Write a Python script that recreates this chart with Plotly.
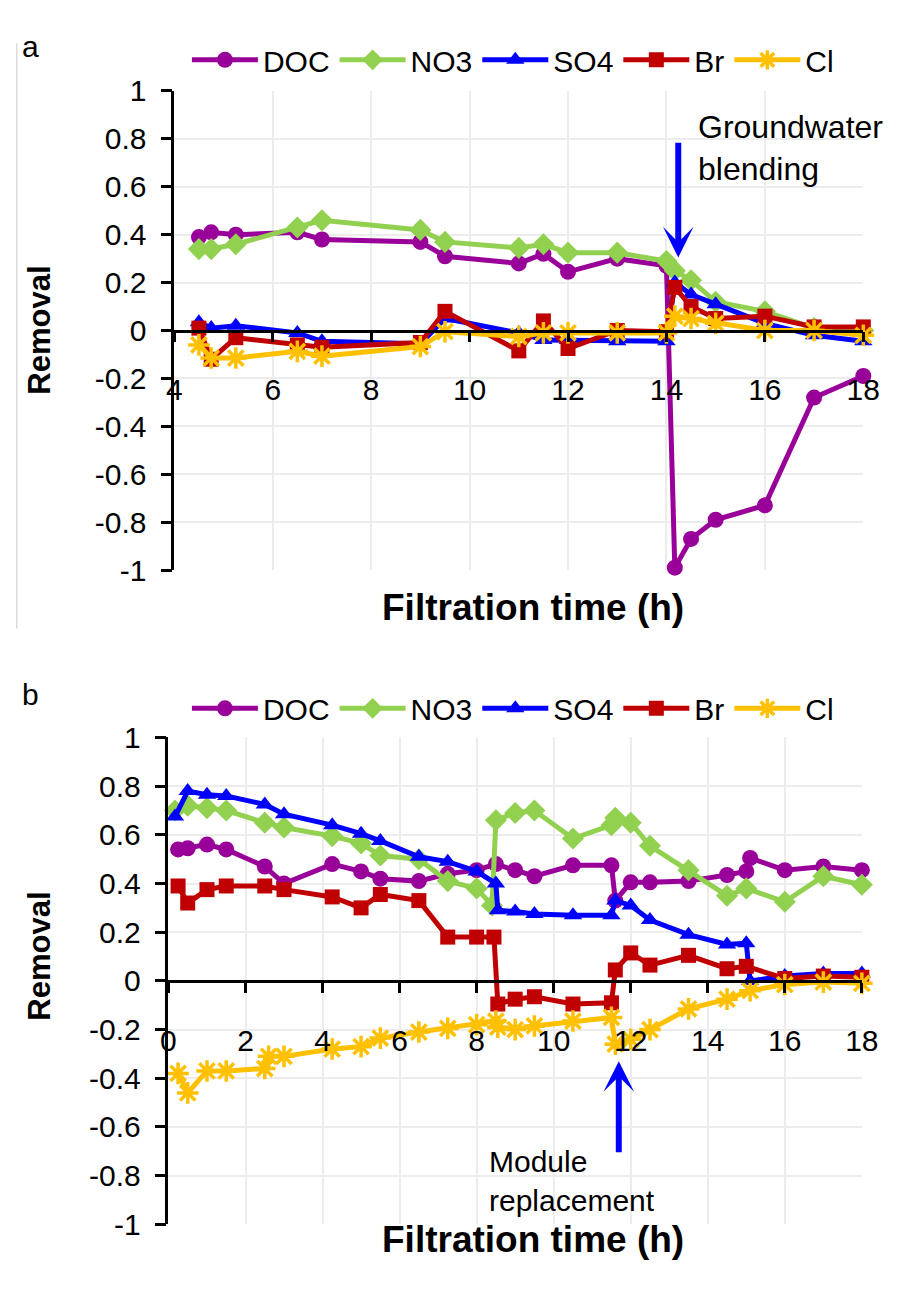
import plotly.graph_objects as go

W, H = 909, 1290

# ---------------- Panel a data ----------------
time_a = [4.5, 4.75, 5.25, 6.5, 7.0, 9.0, 9.5, 11.0, 11.5, 12.0, 13.0, 14.0, 14.17, 14.5, 15.0, 16.0, 17.0, 18.0]
doc_a = [0.39, 0.41, 0.40, 0.41, 0.38, 0.37, 0.31, 0.28, 0.32, 0.245, 0.30, 0.27, -0.99, -0.87, -0.79, -0.73, -0.28, -0.19]
no3_a = [0.34, 0.34, 0.36, 0.43, 0.46, 0.42, 0.37, 0.345, 0.36, 0.325, 0.325, 0.29, 0.25, 0.21, 0.12, 0.08, 0.01, 0.0]
so4_a = [0.035, 0.01, 0.02, -0.01, -0.045, -0.055, 0.05, -0.01, -0.04, -0.04, -0.045, -0.045, 0.2, 0.15, 0.11, 0.03, -0.02, -0.045]
br_a = [0.01, -0.12, -0.03, -0.06, -0.07, -0.05, 0.08, -0.085, 0.04, -0.075, 0.0, -0.005, 0.18, 0.10, 0.05, 0.06, 0.015, 0.015]
cl_a = [-0.06, -0.115, -0.115, -0.087, -0.107, -0.067, -0.005, -0.025, -0.01, -0.01, -0.01, -0.01, 0.06, 0.05, 0.03, 0.0, 0.0, -0.02]

# ---------------- Panel b data ----------------
doc_b_t = [0.25, 0.5, 1.0, 1.5, 2.5, 3.0, 4.25, 5.0, 5.5, 6.5, 7.25, 8.0, 8.5, 9.0, 9.5, 10.5, 11.5, 11.6, 12.0, 12.5, 13.5, 14.5, 15.0, 15.1, 16.0, 17.0, 18.0]
doc_b = [0.54, 0.545, 0.56, 0.54, 0.47, 0.40, 0.48, 0.45, 0.42, 0.41, 0.44, 0.455, 0.48, 0.455, 0.43, 0.475, 0.475, 0.33, 0.405, 0.405, 0.41, 0.435, 0.45, 0.505, 0.455, 0.47, 0.455]

no3_b_t = [0.17, 0.5, 1.0, 1.5, 2.5, 3.0, 4.25, 5.0, 5.5, 6.5, 7.25, 8.0, 8.4, 8.5, 9.0, 9.5, 10.5, 11.5, 11.6, 12.0, 12.5, 13.5, 14.5, 15.0, 16.0, 17.0, 18.0]
no3_b = [0.70, 0.72, 0.71, 0.70, 0.65, 0.63, 0.595, 0.565, 0.515, 0.50, 0.41, 0.38, 0.31, 0.66, 0.69, 0.70, 0.585, 0.64, 0.67, 0.65, 0.555, 0.455, 0.35, 0.38, 0.325, 0.43, 0.395]

so4_b_t = [0.17, 0.5, 1.0, 1.5, 2.5, 3.0, 4.25, 5.0, 5.5, 6.5, 7.25, 8.0, 8.5, 8.55, 9.0, 9.5, 10.5, 11.5, 11.6, 12.0, 12.5, 13.5, 14.5, 15.0, 15.1, 16.0, 17.0, 18.0]
so4_b = [0.675, 0.78, 0.765, 0.76, 0.725, 0.685, 0.64, 0.605, 0.575, 0.51, 0.49, 0.45, 0.40, 0.29, 0.285, 0.275, 0.27, 0.27, 0.33, 0.31, 0.25, 0.19, 0.15, 0.155, 0.0, 0.02, 0.03, 0.03]

br_b_t = [0.25, 0.5, 1.0, 1.5, 2.5, 3.0, 4.25, 5.0, 5.5, 6.5, 7.25, 8.0, 8.45, 8.55, 9.0, 9.5, 10.5, 11.5, 11.6, 12.0, 12.5, 13.5, 14.5, 15.0, 16.0, 17.0, 18.0]
br_b = [0.39, 0.32, 0.375, 0.39, 0.39, 0.375, 0.345, 0.30, 0.355, 0.33, 0.18, 0.18, 0.18, -0.095, -0.075, -0.065, -0.095, -0.09, 0.045, 0.115, 0.065, 0.105, 0.05, 0.06, 0.01, 0.02, 0.015]

cl_b_t = [0.25, 0.5, 1.0, 1.5, 2.5, 2.6, 3.0, 4.25, 5.0, 5.5, 6.5, 7.25, 8.0, 8.5, 8.55, 9.0, 9.5, 10.5, 11.5, 11.6, 12.0, 12.5, 13.5, 14.5, 15.1, 16.0, 17.0, 18.0]
cl_b = [-0.38, -0.46, -0.37, -0.37, -0.36, -0.31, -0.31, -0.28, -0.27, -0.235, -0.21, -0.195, -0.18, -0.165, -0.19, -0.2, -0.185, -0.165, -0.15, -0.26, -0.24, -0.2, -0.115, -0.075, -0.04, -0.015, -0.005, -0.01]

# ---------------- styles ----------------
names = ["DOC", "NO3", "SO4", "Br", "Cl"]
colors = ["#990099", "#92D050", "#0000FF", "#C00000", "#FFC000"]
symbols = ["circle", "diamond", "triangle-up", "square", "asterisk-open"]
msizes = [16, 17, 16, 15, 18]

ticks_a = [4, 6, 8, 10, 12, 14, 16, 18]
ticks_b = [0, 2, 4, 6, 8, 10, 12, 14, 16, 18]
y_ticks = [-1, -0.8, -0.6, -0.4, -0.2, 0, 0.2, 0.4, 0.6, 0.8, 1]
y_ticktext = ["-1", "-0.8", "-0.6", "-0.4", "-0.2", "0", "0.2", "0.4", "0.6", "0.8", "1"]

FONT = "Liberation Sans, Arial, sans-serif"


def px_x(p):
    return p / W


def px_y(p):
    return 1 - p / H


fig = go.Figure()

series_a = [(time_a, doc_a), (time_a, no3_a), (time_a, so4_a), (time_a, br_a), (time_a, cl_a)]
series_b = [(doc_b_t, doc_b), (no3_b_t, no3_b), (so4_b_t, so4_b), (br_b_t, br_b), (cl_b_t, cl_b)]

for panel, series in (("a", series_a), ("b", series_b)):
    for i, (xs, ys) in enumerate(series):
        marker = dict(symbol=symbols[i], size=msizes[i], color=colors[i])
        if symbols[i].startswith("asterisk"):
            marker["line"] = dict(color=colors[i], width=3.5)
        else:
            marker["line"] = dict(width=0)
        fig.add_trace(go.Scatter(
            x=xs, y=ys, mode="lines+markers", name=names[i],
            line=dict(color=colors[i], width=5),
            marker=marker, cliponaxis=False,
            xaxis="x" if panel == "a" else "x2",
            yaxis="y" if panel == "a" else "y2",
            legend="legend" if panel == "a" else "legend2",
        ))

common_x = dict(
    anchor="free", showline=True, linecolor="black", linewidth=2.5,
    ticks="outside", ticklen=10, tickwidth=2.5, tickcolor="black",
    showgrid=True, gridcolor="#ececec", gridwidth=1.5, zeroline=False,
    tickfont=dict(size=30, color="black", family=FONT), ticklabelstandoff=22,
)
common_y = dict(
    range=[-1, 1], tickvals=y_ticks, ticktext=y_ticktext,
    showline=True, linecolor="black", linewidth=2.5,
    ticks="outside", ticklen=11, tickwidth=2.5, tickcolor="black",
    showgrid=True, gridcolor="#ececec", gridwidth=1.5, zeroline=False,
    tickfont=dict(size=30, color="black", family=FONT), ticklabelstandoff=8,
)

legend_common = dict(orientation="h", xanchor="left", yanchor="middle",
                     font=dict(size=30, family=FONT), bgcolor="rgba(0,0,0,0)", itemwidth=66)

fig.update_layout(
    width=W, height=H,
    margin=dict(l=0, r=0, t=0, b=0),
    paper_bgcolor="white", plot_bgcolor="white",
    font=dict(family=FONT, color="black"),
    xaxis=dict(domain=[px_x(171), px_x(879.5)], range=[4, 18],
               tickvals=ticks_a, ticktext=[str(t) for t in ticks_a],
               position=px_y(322), **common_x),
    yaxis=dict(domain=[px_y(568), px_y(76)], anchor="x", **common_y),
    xaxis2=dict(domain=[px_x(165), px_x(878)], range=[0, 18],
                tickvals=ticks_b, ticktext=[str(t) for t in ticks_b],
                position=px_y(990), **common_x),
    yaxis2=dict(domain=[px_y(1240), px_y(740)], anchor="x2", **common_y),
    legend=dict(x=px_x(184), y=px_y(44), **legend_common),
    legend2=dict(x=px_x(184), y=px_y(710), **legend_common),
    showlegend=True,
    shapes=[dict(type="line", xref="paper", yref="paper",
                 x0=px_x(9), x1=px_x(9), y0=px_y(27), y1=px_y(628),
                 line=dict(color="#dcdcdc", width=1.5))],
)

ann = []
# panel letters
ann.append(dict(text="a", x=px_x(12), y=px_y(30), xref="paper", yref="paper",
                xanchor="left", yanchor="middle", showarrow=False, font=dict(size=30)))
ann.append(dict(text="b", x=px_x(12), y=px_y(696), xref="paper", yref="paper",
                xanchor="left", yanchor="middle", showarrow=False, font=dict(size=30)))
# axis titles
for yc, xt in ((322, 606), (965, 1256)):
    ann.append(dict(text="<b>Removal</b>", x=px_x(32), y=px_y(yc), xref="paper", yref="paper",
                    textangle=-90, showarrow=False, font=dict(size=31),
                    xanchor="center", yanchor="middle"))
    ann.append(dict(text="<b>Filtration time (h)</b>", x=px_x(540), y=px_y(xt), xref="paper", yref="paper",
                    showarrow=False, font=dict(size=37), xanchor="center", yanchor="middle"))
# arrows
ann.append(dict(x=14.24, y=0.305, ax=14.24, ay=0.79, xref="x", yref="y", axref="x", ayref="y",
                showarrow=True, arrowhead=3, arrowsize=0.85, arrowwidth=6, arrowcolor="#0000FF", text=""))
ann.append(dict(text="Groundwater<br>blending", x=14.61, y=0.76, xref="x", yref="y",
                xanchor="left", yanchor="middle", align="left", showarrow=False, font=dict(size=32)))
ann.append(dict(x=11.69, y=-0.33, ax=11.69, ay=-0.71, xref="x2", yref="y2", axref="x2", ayref="y2",
                showarrow=True, arrowhead=3, arrowsize=0.85, arrowwidth=6, arrowcolor="#0000FF", text=""))
ann.append(dict(text="Module<br>replacement", x=8.28, y=-0.82, xref="x2", yref="y2",
                xanchor="left", yanchor="middle", align="left", showarrow=False, font=dict(size=30)))

fig.update_layout(annotations=ann)

fig.write_html("out.html")
